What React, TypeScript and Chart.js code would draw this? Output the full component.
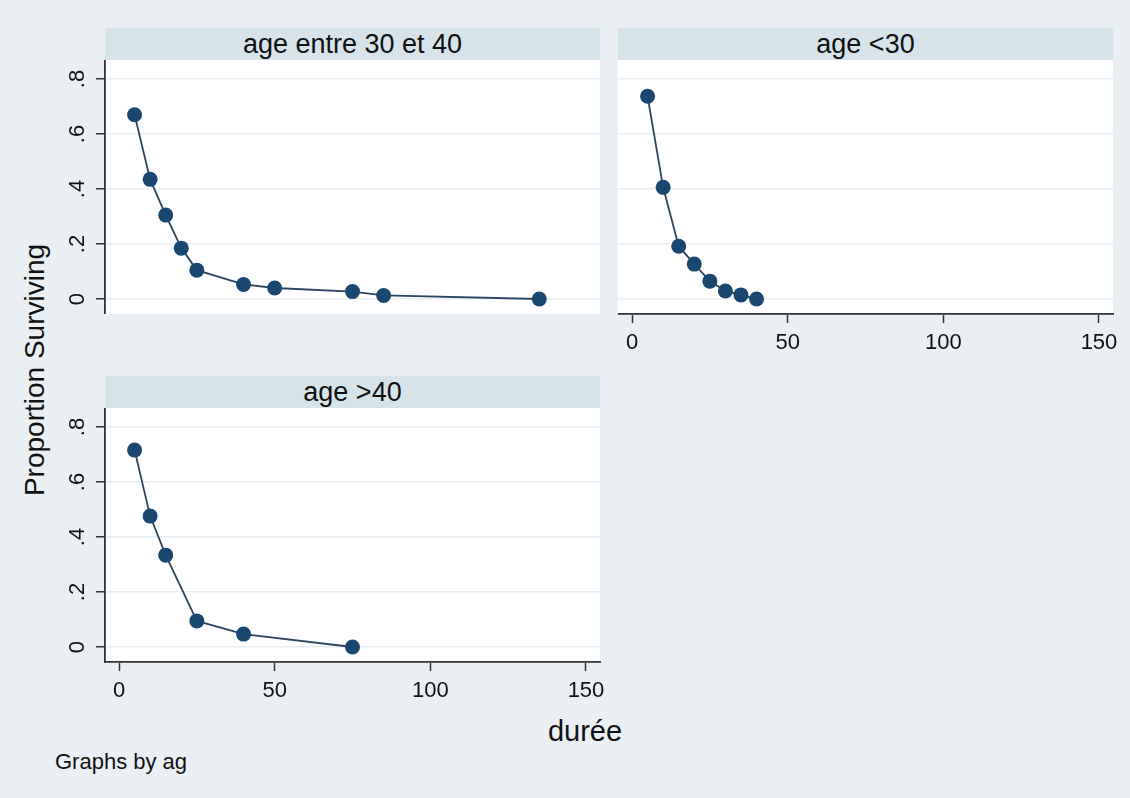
import React, { useEffect, useRef } from "react";
import { Chart, registerables } from "chart.js";

Chart.register(...registerables);

// ---- data ----
const panelTitles = ["age entre 30 et 40", "age <30", "age >40"];
const durA = [5, 10, 15, 20, 25, 40, 50, 75, 85, 135];
const survA = [0.67, 0.435, 0.305, 0.185, 0.105, 0.053, 0.04, 0.027, 0.013, 0];
const durB = [5, 10, 15, 20, 25, 30, 35, 40];
const survB = [0.737, 0.406, 0.192, 0.127, 0.065, 0.029, 0.015, 0];
const durC = [5, 10, 15, 25, 40, 75];
const survC = [0.716, 0.476, 0.334, 0.095, 0.047, 0];
const yTickValues = [0, 0.2, 0.4, 0.6, 0.8];
const yTickLabels = ["0", ".2", ".4", ".6", ".8"];
const xTickValues = [0, 50, 100, 150];
const xTickLabels = ["0", "50", "100", "150"];
const yTitle = "Proportion Surviving";
const xTitle = "durée";
const noteText = "Graphs by ag";

// ---- style ----
const FONT = "'Liberation Sans', Arial, Helvetica, sans-serif";
const BG = "#e9eff2";
const HEADER_BG = "#d6e4ea";
const GRID = "#e6eef1";
const AXIS = "#333333";
const NAVY = "#1a476f";
const LINE = "#2c4560";
const TICK_FONT = 22;
const Y_AXIS_W = 50;
const X_AXIS_H = 48;
const RIGHT_PAD = 24;
const PW = 495; // plot width
const PH = 254; // plot height

type PanelProps = {
  xs: number[];
  ys: number[];
  showX: boolean;
  showY: boolean;
  left: number;
  top: number;
  width: number;
  height: number;
};

function Panel({ xs, ys, showX, showY, left, top, width, height }: PanelProps) {
  const ref = useRef<HTMLCanvasElement | null>(null);
  useEffect(() => {
    if (!ref.current) return;
    const bgPlugin = {
      id: "plotBg",
      beforeDraw(chart: any) {
        const { ctx, chartArea } = chart;
        ctx.save();
        ctx.fillStyle = "#ffffff";
        ctx.fillRect(chartArea.left, chartArea.top, chartArea.right - chartArea.left, chartArea.bottom - chartArea.top);
        ctx.restore();
      },
    };
    const yLabelPlugin = {
      id: "yRotLabels",
      afterDraw(chart: any) {
        if (!showY) return;
        const { ctx } = chart;
        const ys2 = chart.scales.y;
        ctx.save();
        ctx.fillStyle = "#111";
        ctx.font = `${TICK_FONT}px ${FONT}`;
        ctx.textAlign = "center";
        ctx.textBaseline = "middle";
        yTickValues.forEach((v, i) => {
          const py = ys2.getPixelForValue(v);
          ctx.save();
          ctx.translate(ys2.left + 23, py);
          ctx.rotate(-Math.PI / 2);
          ctx.fillText(yTickLabels[i], 0, 0);
          ctx.restore();
        });
        ctx.restore();
      },
    };
    const chart = new Chart(ref.current, {
      type: "line",
      data: {
        datasets: [
          {
            data: xs.map((x, i) => ({ x, y: ys[i] })),
            borderColor: LINE,
            borderWidth: 1.8,
            pointBackgroundColor: NAVY,
            pointBorderColor: NAVY,
            pointBorderWidth: 0,
            pointRadius: 7.5,
            tension: 0,
            clip: false,
          } as any,
        ],
      },
      options: {
        animation: false,
        responsive: false,
        maintainAspectRatio: false,
        layout: { padding: { left: 0, top: 0, bottom: 0, right: RIGHT_PAD }, autoPadding: false } as any,
        plugins: {
          legend: { display: false },
          tooltip: { enabled: false },
          title: { display: false },
        },
        scales: {
          x: {
            type: "linear",
            min: -4.5,
            max: 154.5,
            display: showX,
            grid: {
              drawOnChartArea: false,
              drawTicks: true,
              tickLength: 9,
              tickColor: AXIS,
              tickWidth: 1.5,
            } as any,
            border: { display: true, color: AXIS, width: 1.8 },
            ticks: {
              color: "#111",
              font: { family: FONT, size: TICK_FONT },
              padding: 7,
              maxRotation: 0,
              minRotation: 0,
              autoSkip: false,
              callback: (v: any) => {
                const idx = xTickValues.indexOf(Number(v));
                return idx >= 0 ? xTickLabels[idx] : "";
              },
            },
            afterBuildTicks: (scale: any) => {
              scale.ticks = xTickValues.map((v) => ({ value: v }));
            },
            afterFit: (scale: any) => {
              scale.height = showX ? X_AXIS_H : 0;
              scale.paddingLeft = 0;
              scale.paddingRight = 0;
              scale.paddingTop = 0;
              scale.paddingBottom = 0;
            },
          },
          y: {
            type: "linear",
            min: -0.0545,
            max: 0.869,
            display: true,
            grid: {
              color: GRID,
              lineWidth: 1.5,
              drawTicks: showY,
              tickLength: 9,
              tickColor: AXIS,
              tickWidth: 1.5,
            } as any,
            border: { display: showY, color: AXIS, width: 1.8 },
            ticks: { display: false },
            afterBuildTicks: (scale: any) => {
              scale.ticks = yTickValues.map((v) => ({ value: v }));
            },
            afterFit: (scale: any) => {
              scale.width = showY ? Y_AXIS_W : 0;
              scale.paddingLeft = 0;
              scale.paddingRight = 0;
              scale.paddingTop = 0;
              scale.paddingBottom = 0;
            },
          },
        },
      } as any,
      plugins: [bgPlugin, yLabelPlugin],
    });
    return () => chart.destroy();
  }, []);
  return (
    <canvas
      ref={ref}
      width={width}
      height={height}
      style={{ position: "absolute", left, top, width, height }}
    />
  );
}

function Header({ text, left, top }: { text: string; left: number; top: number }) {
  return (
    <div
      style={{
        position: "absolute",
        left,
        top,
        width: PW,
        height: 32,
        background: HEADER_BG,
        color: "#111",
        fontFamily: FONT,
        fontSize: 27,
        lineHeight: "32px",
        textAlign: "center",
        whiteSpace: "nowrap",
      }}
    >
      {text}
    </div>
  );
}

export default function App() {
  const T1 = 60;
  const T2 = 408;
  return (
    <div
      style={{
        position: "absolute",
        left: 0,
        top: 0,
        width: 1130,
        height: 798,
        background: BG,
        overflow: "hidden",
      }}
    >
      <Header text={panelTitles[0]} left={105} top={T1 - 32} />
      <Header text={panelTitles[1]} left={618} top={T1 - 32} />
      <Header text={panelTitles[2]} left={105} top={T2 - 32} />
      <Panel xs={durA} ys={survA} showX={false} showY={true} left={105 - Y_AXIS_W} top={T1} width={PW + Y_AXIS_W + RIGHT_PAD} height={PH} />
      <Panel xs={durB} ys={survB} showX={true} showY={false} left={618} top={T1} width={PW + RIGHT_PAD} height={PH + X_AXIS_H} />
      <Panel xs={durC} ys={survC} showX={true} showY={true} left={105 - Y_AXIS_W} top={T2} width={PW + Y_AXIS_W + RIGHT_PAD} height={PH + X_AXIS_H} />
      <div
        style={{
          position: "absolute",
          left: 35,
          top: 370,
          transform: "translate(-50%, -50%) rotate(-90deg)",
          fontFamily: FONT,
          fontSize: 28,
          color: "#111",
          whiteSpace: "nowrap",
        }}
      >
        {yTitle}
      </div>
      <div
        style={{
          position: "absolute",
          left: 585,
          top: 731,
          transform: "translate(-50%, -50%)",
          fontFamily: FONT,
          fontSize: 29,
          color: "#111",
          whiteSpace: "nowrap",
        }}
      >
        {xTitle}
      </div>
      <div
        style={{
          position: "absolute",
          left: 55,
          top: 762,
          transform: "translate(0, -50%)",
          fontFamily: FONT,
          fontSize: 22,
          color: "#111",
          whiteSpace: "nowrap",
        }}
      >
        {noteText}
      </div>
    </div>
  );
}
